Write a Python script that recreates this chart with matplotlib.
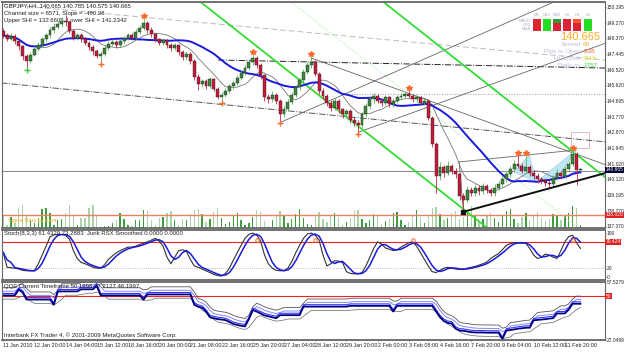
import numpy as np
import pandas as pd
import matplotlib.pyplot as plt
from matplotlib.patches import Rectangle, Polygon

plt.rcParams['font.family'] = ['Liberation Sans', 'DejaVu Sans']

# ---- GBPJPY H4 bars ----
first_open = 148.80
closes = [
    148.55, 148.35, 148.50, 148.20, 147.90, 147.30, 147.05, 147.40, 147.75, 148.00,
    148.30, 148.55, 148.85, 149.05, 149.20, 149.40, 149.30, 148.80, 148.40, 148.55,
    148.30, 148.10, 147.85, 147.60, 147.35, 147.45, 147.80, 148.05, 148.15, 147.95,
    148.20, 148.35, 148.55, 148.40, 148.75, 148.95, 149.25, 148.85, 148.60, 148.30,
    148.10, 148.25, 147.95, 147.80, 147.95, 147.55, 147.25, 147.45, 147.05, 146.10,
    145.70, 145.85, 145.55, 145.95, 145.40, 144.95, 145.05, 145.30, 145.55, 145.75,
    146.05, 146.35, 146.65, 146.95, 147.20, 146.80, 146.20, 144.95, 144.80, 145.05,
    144.70, 143.90, 144.25, 144.65, 145.05, 145.50, 145.90, 146.40, 146.80, 147.00,
    146.30, 145.30, 145.00, 144.60, 144.30, 144.70, 144.20, 143.90, 144.10, 143.60,
    143.40, 143.30, 143.90, 144.40, 144.80, 145.00, 144.70, 144.60, 144.90, 144.50,
    144.70, 144.90, 145.00, 145.10, 145.00, 144.80, 144.90, 144.60, 144.70, 143.70,
    142.20, 140.30, 140.80, 140.50, 140.90, 140.60, 140.40, 139.10, 138.90, 139.50,
    139.30, 139.60, 139.40, 139.70, 139.50, 139.30, 139.60, 139.80, 140.10, 140.40,
    140.70, 141.00, 140.90, 140.60, 140.80, 140.50, 140.30, 140.10, 140.00, 139.90,
    139.80, 140.20, 140.50, 140.30, 140.70, 141.00, 141.60, 140.665, 140.665,
]
highs = [
    148.95, 148.70, 148.65, 148.60, 148.30, 148.00, 147.45, 147.55, 147.90, 148.15,
    148.45, 148.70, 149.00, 149.25, 149.40, 149.60, 149.70, 149.40, 148.90, 148.70,
    148.65, 148.45, 148.20, 147.95, 147.75, 147.60, 147.95, 148.20, 148.30, 148.25,
    148.35, 148.50, 148.70, 148.65, 148.90, 149.15, 149.55, 149.35, 149.00, 148.70,
    148.40, 148.40, 148.35, 148.10, 148.10, 148.05, 147.65, 147.60, 147.55, 147.15,
    146.25, 146.00, 146.00, 146.10, 146.05, 145.50, 145.20, 145.45, 145.70, 145.90,
    146.20, 146.50, 146.80, 147.10, 147.45, 147.30, 146.90, 146.30, 145.10, 145.25,
    145.15, 144.80, 144.40, 144.80, 145.20, 145.65, 146.05, 146.55, 147.00, 147.30,
    147.10, 146.40, 145.45, 145.10, 144.75, 144.85, 144.80, 144.30, 144.25, 144.20,
    143.75, 143.55, 144.05, 144.55, 144.95, 145.15, 145.10, 144.85, 145.05, 145.00,
    144.85, 145.05, 145.15, 145.25, 145.35, 145.10, 145.05, 145.00, 144.85, 144.80,
    143.80, 142.30, 141.10, 140.95, 141.15, 141.00, 140.75, 140.50, 139.30, 139.70,
    139.65, 139.80, 139.75, 139.90, 139.85, 139.60, 139.80, 140.00, 140.30, 140.60,
    140.90, 141.25, 141.50, 141.05, 141.50, 140.95, 140.65, 140.45, 140.25, 140.15,
    140.05, 140.35, 140.70, 140.60, 140.90, 141.20, 141.80, 141.70, 140.785,
]
lows = [
    148.40, 148.20, 148.25, 148.05, 147.70, 147.10, 146.65, 146.90, 147.30, 147.60,
    147.85, 148.15, 148.40, 148.70, 148.90, 149.05, 149.10, 148.65, 148.25, 148.25,
    148.15, 147.95, 147.70, 147.40, 147.20, 146.95, 147.35, 147.65, 147.90, 147.80,
    147.85, 148.05, 148.25, 148.25, 148.30, 148.60, 148.85, 148.70, 148.45, 148.15,
    147.95, 147.95, 147.80, 147.60, 147.65, 147.40, 147.10, 147.10, 146.85, 145.90,
    145.35, 145.50, 145.40, 145.45, 145.25, 144.80, 144.70, 144.90, 145.15, 145.40,
    145.60, 145.90, 146.20, 146.50, 146.80, 146.65, 146.00, 144.70, 144.60, 144.65,
    144.50, 143.50, 143.75, 144.10, 144.50, 144.90, 145.35, 145.75, 146.25, 146.65,
    146.15, 145.10, 144.80, 144.40, 144.10, 144.15, 144.00, 143.70, 143.75, 143.40,
    143.20, 142.90, 143.15, 143.75, 144.25, 144.60, 144.55, 144.40, 144.45, 144.35,
    144.35, 144.55, 144.75, 144.85, 144.85, 144.65, 144.65, 144.45, 144.45, 143.55,
    142.00, 139.30, 140.05, 140.25, 140.35, 140.40, 140.15, 138.90, 138.20, 138.75,
    139.10, 139.15, 139.20, 139.25, 139.30, 139.10, 139.15, 139.45, 139.65, 139.95,
    140.25, 140.55, 140.75, 140.45, 140.45, 140.30, 140.10, 139.90, 139.80, 139.70,
    139.60, 139.65, 140.05, 140.10, 140.15, 140.55, 140.90, 139.75, 140.575,
]
volumes = [
    12, 3, 11, 5, 20, 23, 12, 8, 5, 10, 19, 20, 15, 3, 8, 9, 15, 23, 12, 3, 10, 10, 20, 23, 12, 1,
    2, 2, 5, 8, 15, 9, 3, 2, 8, 8, 18, 17, 8, 3, 10, 11, 15, 17, 8, 3, 9, 8, 14, 18, 19,
    14, 6, 9, 16, 20, 10, 4, 6, 12, 15, 8, 3, 5, 11, 18, 16, 7, 2, 8, 13, 17, 12, 5, 9, 14,
    19, 10, 4, 3, 12, 16, 9, 6, 13, 15, 11, 3, 6, 10, 17, 18, 9, 5, 8, 14, 12, 4, 7, 9, 15,
    16, 8, 3, 6, 13, 18, 11, 5, 12, 20, 21, 14, 8, 10, 15, 17, 9, 11, 18, 22, 12, 6, 9, 13, 15,
    10, 6, 12, 17, 19, 9, 5, 11, 15, 8, 12, 16, 10, 7, 9, 14, 12, 8, 13, 15, 22, 20, 3,
]
# Stoch %K main line, one value per bar
stoch_k = [
    56, 22, 21, 20, 18, 15, 14, 14, 14, 30,
    50, 70, 91, 96, 97, 97, 95, 86, 60, 42,
    33, 30, 26, 22, 20, 20, 28, 40, 48, 55,
    60, 64, 68, 68, 70, 74, 77, 80, 84, 88,
    82, 70, 45, 30, 45, 60, 62, 58, 40, 25,
    22, 18, 14, 10, 6, 3, 2, 8, 20, 38,
    55, 72, 88, 97, 100, 95, 82, 50, 30, 20,
    15, 14, 14, 20, 35, 55, 72, 88, 98, 100,
    95, 84, 50, 25, 30, 37, 36, 33, 12, 8,
    7, 7, 10, 25, 45, 65, 80, 75, 66, 63,
    60, 62, 68, 73, 78, 80, 70, 55, 40, 25,
    12, 10, 15, 20, 22, 20, 18, 17, 18, 20,
    22, 24, 27, 30, 34, 42, 48, 53, 62, 72,
    76, 78, 78, 77, 77, 65, 50, 42, 45, 52,
    50, 45, 42, 60, 80, 92, 95, 78, 65,
]
# QQE slow (thick navy) line, one value per bar
qqe_line = [
    50.5, 50.5, 50.5, 50.5, 53.5, 52.0, 48.3, 48.3, 48.3, 48.3,
    48.3, 48.3, 48.3, 45.6, 52.6, 52.6, 52.6, 52.6, 52.6, 52.6,
    53.7, 53.7, 53.7, 53.7, 55.5, 50.5, 50.5, 50.5, 50.5, 50.5,
    50.5, 50.5, 50.5, 50.5, 50.5, 50.5, 48.3, 51.0, 51.0, 51.0,
    51.0, 51.0, 51.0, 51.0, 51.0, 51.0, 51.0, 51.0, 51.0, 45.5,
    44.5, 44.0, 42.0, 39.0, 38.5, 38.0, 37.8, 37.5, 36.5, 35.5,
    35.0, 34.5, 34.2, 38.0, 42.8, 42.0, 41.0, 40.0, 39.5, 39.0,
    38.5, 40.1, 40.1, 40.1, 40.1, 40.1, 40.1, 44.6, 44.6, 44.6,
    44.6, 44.6, 44.6, 44.6, 44.6, 44.6, 44.6, 44.6, 44.6, 45.0,
    45.0, 45.0, 45.0, 45.0, 45.0, 45.0, 45.0, 45.0, 45.0, 45.0,
    42.0, 45.0, 45.0, 45.0, 45.0, 45.0, 45.0, 45.0, 45.0, 45.0,
    45.0, 42.0, 39.0, 37.0, 36.0, 35.7, 33.0, 32.0, 31.9, 31.5,
    31.2, 31.0, 31.0, 31.0, 30.9, 30.9, 30.9, 30.9, 27.6, 32.0,
    32.3, 32.6, 33.0, 33.2, 33.5, 33.5, 37.4, 37.6, 37.8, 38.0,
    38.3, 38.5, 41.0, 41.0, 41.0, 43.0, 46.1, 46.1, 46.1,
]

time_labels = ["11 Jan 2010", "12 Jan 20:00", "14 Jan 04:00", "15 Jan 12:00", "18 Jan 16:00",
               "20 Jan 00:00", "21 Jan 08:00", "22 Jan 16:00", "25 Jan 20:00", "27 Jan 04:00",
               "28 Jan 12:00", "29 Jan 20:00", "2 Feb 00:00", "3 Feb 08:00", "4 Feb 16:00",
               "7 Feb 20:00", "9 Feb 04:00", "10 Feb 12:00", "11 Feb 20:00"]
price_ticks = [150.195, 149.270, 148.370, 147.445, 146.520, 145.620, 144.695, 143.770,
               142.870, 141.945, 141.020, 140.120, 139.195, 138.270, 137.370]

# fractal points (bar index)
fractal_highs = [36, 64, 79, 104, 132, 134, 146]
fractal_lows = [25, 56, 71, 91]
green_low = [6]
stoch_marks = [65, 80, 105, 146]

# hand drawn objects, (bar, price) end points
green_lines = [((50.0, 150.60), (124.1, 137.26)), ((96.9, 150.60), (154.6, 140.18))]
green_mid = ((73.3, 150.60), (147.4, 137.25))
gray_lines = [((71.3, 143.46), (142.3, 150.60)), ((91.3, 142.88), (154.6, 148.09)),
              ((79.0, 147.21), (154.6, 140.94)), ((116.9, 141.12), (146.9, 141.82)),
              ((116.9, 141.12), (118.0, 138.20))]
dashdot_dark = ((-0.5, 145.75), (154.6, 142.29))
dashed_light = ((-0.5, 150.37), (154.6, 147.09))
dashdot_black = ((55.1, 147.09), (154.6, 146.62))
dotted_level = ((86.7, 145.10), (154.6, 145.10))
support_line = ((118.0, 138.20), (154.6, 140.48))
gray_level = 140.60
red_level = 138.02
bat_left = [(131.0, 140.53), (134.9, 141.52), (136.7, 139.94)]
bat_right = [(136.7, 139.94), (146.9, 141.82), (142.3, 140.24)]
pink_box = (145.6, 141.94, 4.7, 0.92)

opens = [first_open] + closes[:-1]
n = len(closes)
idx = np.arange(n)
o = np.array(opens)
c = np.array(closes)
h = np.array(highs)
l = np.array(lows)
bull = c >= o

cs = pd.Series(c)
blue_ma = cs.rolling(21, min_periods=1).mean()
gray_ma = cs.rolling(9, min_periods=1).mean()

k = pd.Series(stoch_k, dtype=float)
d = k.rolling(3, min_periods=1).mean()
q = pd.Series(qqe_line)

fig = plt.figure(figsize=(6.25, 3.52), dpi=100)
L, W = 2 / 625, 603 / 625
ax = fig.add_axes([L, 1 - 228 / 352, W, 226 / 352])
ax_st = fig.add_axes([L, 1 - 280 / 352, W, 50 / 352])
ax_q = fig.add_axes([L, 1 - 340 / 352, W, 58 / 352])
xlim = (-0.3, 154.3)

# volume on a twin axis so bars sit on the panel bottom
axv = ax.twinx()
axv.set_ylim(0, 226)
axv.bar(idx, volumes, width=0.35, color=np.where(bull, '#3e9e3e', '#a8d4a8'), zorder=1)
axv.set_yticks([])
axv.set_zorder(0)
ax.set_zorder(1)
ax.patch.set_visible(False)

ax.plot(*zip(*dashed_light), color='#bbbbbb', lw=0.7, ls=(0, (6, 3)))
ax.plot(*zip(*dashdot_dark), color='#555555', lw=0.7, ls='-.')
ax.plot(*zip(*dashdot_black), color='#222222', lw=0.7, ls='-.')
ax.plot(*zip(*dotted_level), color='#999999', lw=0.7, ls=':')
ax.axhline(gray_level, color='#888888', lw=0.7)
ax.axhline(red_level, color='#f08060', lw=1.0)
for seg in gray_lines:
    ax.plot(*zip(*seg), color='#666666', lw=0.6)
ax.plot(*zip(*green_mid), color='#99ee99', lw=0.7, ls=':')
for seg in green_lines:
    ax.plot(*zip(*seg), color='#33dd33', lw=1.3)
ax.add_patch(Polygon(bat_left, closed=True, fc='#bfe6f5', ec='#9fcfe0', lw=0.5, zorder=2))
ax.add_patch(Polygon(bat_right, closed=True, fc='#bfe6f5', ec='#9fcfe0', lw=0.5, zorder=2))
ax.add_patch(Rectangle(pink_box[:2], pink_box[2], pink_box[3], fill=False, ec='#e8b8c8', lw=0.7))

ax.plot(idx, gray_ma, color='#777777', lw=0.6, zorder=3)
ax.plot(idx, blue_ma, color='#1a1adc', lw=1.4, zorder=3)

# candles
wick_col = np.where(bull, '#55bb55', '#cc2244')
ax.vlines(idx, l, h, colors=wick_col, lw=0.6, zorder=4)
body = np.maximum(np.abs(c - o), 0.02)
ax.bar(idx, body, bottom=np.minimum(o, c), width=0.75,
       color=np.where(bull, '#3a8a3a', '#cc1838'), edgecolor='#222222', lw=0.3, zorder=5)

ax.plot(*zip(*support_line), color='#111111', lw=1.4, zorder=6)
ax.plot([support_line[0][0]], [support_line[0][1]], 's', ms=2.5, color='#111111', zorder=6)

ax.plot(fractal_highs, h[fractal_highs] + 0.12, '*', color='#ff6a2a', ms=4, zorder=7)
ax.plot(fractal_lows, l[fractal_lows] - 0.12, '+', color='#ff6a2a', ms=4, mew=1, zorder=7)
ax.plot(green_low, l[green_low] - 0.12, '+', color='#33cc33', ms=4, mew=1, zorder=7)

ax.set_xlim(*xlim)
ax.set_ylim(137.25, 150.49)
ax.yaxis.tick_right()
ax.set_yticks(price_ticks)
ax.set_yticklabels([f"{p:.3f}" for p in price_ticks])
ax.set_xticks([])


def scale_box(a, y, txt, fc):
    a.annotate(txt, xy=(1.0, y), xycoords=('axes fraction', 'data'), xytext=(0.5, 0),
               textcoords='offset points', fontsize=3.5, color='white', va='center', ha='left',
               bbox=dict(boxstyle='square,pad=0.12', fc=fc, ec='none'))


scale_box(ax, closes[-1], "140.665", '#000033')
scale_box(ax, red_level, "138.020", '#dd2222')

# header texts
hdr = dict(transform=ax.transAxes, fontsize=4.3, color='#222222', ha='left', va='top')
ax.text(0.003, 0.995, "GBPJPY,H4  140.665 140.785 140.575 140.665", **hdr)
ax.text(0.003, 0.962, "Channel size = 6571, Slope = -480.38", **hdr)
ax.text(0.003, 0.929, "Upper SHI = 132.6605  Lower SHI = 141.2342", **hdr)
ax.text(0.01, 0.031, "Signal Bars by Kent", transform=ax.transAxes, fontsize=4.0,
        color='#e8b020', ha='left', va='center')

# dashboard at top right
tf_names = ["M5", "M15", "M30", "H1", "H4", "D1"]
row_names = ["MACD", "STO", "EMA"]
cell_cols = [["#dd2233", "#dd2233", "#dd2233"],
             ["#22dd22", "#22dd22", "#22dd22"],
             ["#339933", "#dd2233", "#dd2233"],
             ["#dd2233", "#dd2233", "#dd2233"],
             ["#ff5533", "#dd2233", "#dd2233"],
             ["#22dd22", "#22dd22", "#22dd22"]]
col_x = [537, 547, 557, 567, 577, 588]
row_y = [21, 25, 29]
for j, name in enumerate(tf_names):
    fx = col_x[j] / 625
    fig.text(fx, 1 - 15.5 / 352, name, fontsize=3.0, color='#aab0c0', ha='center', va='center')
    for r in range(3):
        fig.patches.append(Rectangle((fx - 4 / 625, 1 - (row_y[r] + 1.5) / 352), 8 / 625, 3 / 352,
                                     transform=fig.transFigure, fc=cell_cols[j][r], ec='none'))
for r, name in enumerate(row_names):
    fig.text(531 / 625, 1 - row_y[r] / 352, name, fontsize=3.0, color='#aab0c0', ha='right', va='center')
fig.text(600 / 625, 1 - 37 / 352, "140.665", fontsize=8, color='#ffaa22', ha='right', va='center')
info = [("Spread", "60", '#ffaa22', 44.5), ("Pips to Open", "-338", '#ff6633', 51.5),
        ("Hi to Low", "2118", '#dddd33', 58.5), ("Daily av", "1757", '#33dd33', 65.5)]
for lab, val, col, yy in info:
    fig.text(581 / 625, 1 - yy / 352, lab, fontsize=4.6, color='#b8c0d8', ha='right', va='center')
    fig.text(583 / 625, 1 - yy / 352, val, fontsize=4.6, color=col, ha='left', va='center')

# stochastic panel
ax_st.axhline(80, color='#ee2222', lw=0.8)
ax_st.axhline(20, color='#aaaaaa', lw=0.6, ls=':')
ax_st.plot(idx, k, color='#333333', lw=0.8)
ax_st.plot(idx, d, color='#1a1adc', lw=1.1)
ax_st.plot(stoch_marks, [84] * len(stoch_marks), 'o', mfc='none', mec='#ff6a2a', ms=2.5, mew=0.7)
ax_st.set_xlim(*xlim)
ax_st.set_ylim(-7, 107)
ax_st.yaxis.tick_right()
ax_st.set_yticks([100, 20, 0])
ax_st.set_yticklabels(["100", "20", "0"])
ax_st.set_xticks([])
scale_box(ax_st, 80, "79.424", '#dd2222')
ax_st.text(0.003, 0.97, "Stoch(8,3,3) 61.4329 73.2883  Jurik RSX Smoothed 0.0000 0.0000",
           transform=ax_st.transAxes, fontsize=4.3, color='#222222', ha='left', va='top')

# QQE panel
ax_q.axhline(50, color='#ee2222', lw=0.8)
ax_q.plot(idx, q.rolling(2, min_periods=1).mean() + 4.0, color='#555555', lw=0.6)
ax_q.plot(idx, q.rolling(3, min_periods=1).mean() - 2.0, color='#666666', lw=0.5)
ax_q.plot(idx, q.rolling(2, min_periods=1).mean() + 2.2, color='#8888ff', lw=0.7)
ax_q.plot(idx, q + 1.0, color='#3333ff', lw=0.8)
ax_q.plot(idx, q, color='#000080', lw=1.3)
ax_q.set_xlim(*xlim)
ax_q.set_ylim(27.0499, 57.5279)
ax_q.yaxis.tick_right()
ax_q.set_yticks([57.5279, 27.0499])
ax_q.set_yticklabels(["57.5279", "27.0499"])
scale_box(ax_q, 50, "50", '#dd2222')
ax_q.text(0.003, 0.97, "QQE Current Timeframe 50.1998 47.2127 46.1997",
          transform=ax_q.transAxes, fontsize=4.3, color='#222222', ha='left', va='top')
ax_q.text(0.003, 0.04, "Interbank FX Trader 4, \u00a9 2001-2009 MetaQuotes Software Corp.",
          transform=ax_q.transAxes, fontsize=4.3, color='#222222', ha='left', va='bottom')
ax_q.set_xticks(range(0, 149, 8))
ax_q.set_xticklabels(time_labels)
for t in ax_q.get_xticklabels():
    t.set_ha('left')

for a in (ax, ax_st, ax_q):
    for side, s in a.spines.items():
        s.set_color('#666666')
        s.set_linewidth(1.3 if side in ('top', 'bottom') else 0.8)
    a.tick_params(axis='both', labelsize=3.5, length=1, width=0.5, pad=0.4, colors='#222222')
ax_q.tick_params(axis='x', labelsize=3.9, pad=1)
for s in axv.spines.values():
    s.set_visible(False)

fig.savefig("out.png", dpi=100, facecolor='white')
